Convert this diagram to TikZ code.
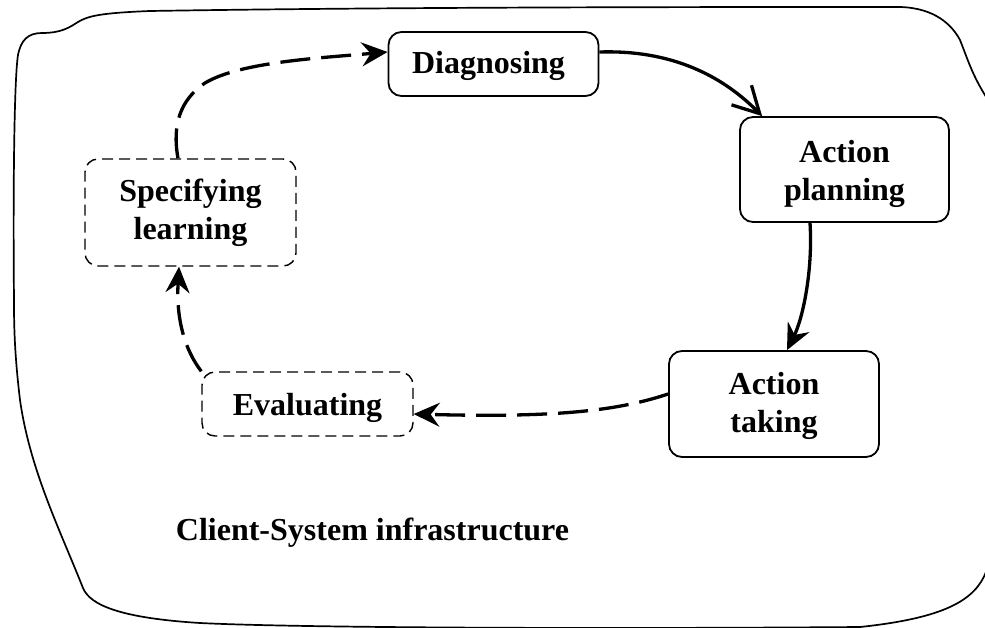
\documentclass[tikz,border=0pt]{standalone}
\usepackage{fontspec}
\setmainfont{Liberation Serif}
\usetikzlibrary{arrows.meta}

% invisible strut that lifts the top of a first line
\newcommand\topstrut[1]{\rule{0pt}{#1}}

\tikzset{
  lbl/.style={font=\fontsize{32}{38}\selectfont\bfseries, align=center, inner sep=0pt},
  solidbox/.style={lbl, draw, line width=1.8pt, rounded corners=13pt},
  dashbox/.style={lbl, draw, line width=1.4pt, rounded corners=13pt, dash pattern=on 11pt off 6pt},
  flow/.style={line width=3.3pt},
  dashflow/.style={flow, dash pattern=on 30pt off 11pt},
  filltip/.style={-{Stealth[length=26pt,width=24pt,inset=9pt]}},
  barbtip/.style={-{Straight Barb[length=26pt,width=28pt]}},
  border/.style={line width=1.7pt}
}

\begin{document}
\begin{tikzpicture}[x=1pt,y=-1pt]
\useasboundingbox (0,0) rectangle (985,628);

% irregular outline of the client-system infrastructure
\begin{scope}
\clip (0,0) rectangle (985,628);
\draw[border] (42,33) .. controls (62,33) and (70,27) .. (78,22)
  .. controls (88,16) and (100,13) .. (150,11)
  .. controls (400,7) and (700,7) .. (900,7)
  .. controls (935,8) and (952,25) .. (960,40)
  .. controls (968,60) and (972,75) .. (988,100)
  .. controls (996,250) and (996,450) .. (986,572)
  .. controls (975,600) and (945,618) .. (860,627)
  .. controls (600,629) and (300,628) .. (200,623)
  .. controls (120,618) and (90,605) .. (83,588)
  .. controls (60,530) and (30,470) .. (20,400)
  .. controls (14,350) and (14,320) .. (14,300)
  .. controls (13,200) and (14,80) .. (18,55)
  .. controls (21,40) and (28,33) .. (42,33) -- cycle;
\end{scope}

% stages of the cycle
\node[solidbox, minimum width=210pt, minimum height=64pt] (diag) at (493.5,64)
  {\topstrut{27pt}Diagnosing\hspace*{10pt}};
\node[solidbox, minimum width=209pt, minimum height=105pt] (plan) at (844.5,169.5)
  {\topstrut{32pt}Action\\planning};
\node[solidbox, minimum width=210pt, minimum height=106pt] (take) at (774,404)
  {\topstrut{27pt}Action\\taking};
\node[dashbox, minimum width=211pt, minimum height=64pt] (eval) at (307.5,404)
  {\topstrut{31pt}Evaluating};
\node[dashbox, minimum width=211pt, minimum height=107pt] (spec) at (190.5,212.5)
  {\topstrut{24pt}Specifying\\learning};

\node[lbl, anchor=base] (infra) at (372.5,540) {Client-System infrastructure};

% connectors
\draw[flow, barbtip] ([yshift=12pt]diag.east)
  .. controls (660,50) and (715,68) .. ([xshift=23pt]plan.north west);
\draw[flow, filltip] ([xshift=-34.5pt]plan.south)
  .. controls (813,270) and (803,318) .. ([xshift=13pt]take.north);
\draw[dashflow, filltip] ([yshift=10pt]take.west)
  .. controls (620,410) and (560,418) .. ([yshift=-10pt]eval.east);
\draw[dashflow, filltip] (eval.north west)
  .. controls (185,350) and (176,320) .. ([xshift=-11.5pt]spec.south);
\draw[dashflow, filltip] ([xshift=-12.5pt]spec.north)
  .. controls (172,125) and (180,100) .. (205,83)
  .. controls (240,62) and (320,58) .. ([yshift=12pt]diag.west);
\end{tikzpicture}
\end{document}
